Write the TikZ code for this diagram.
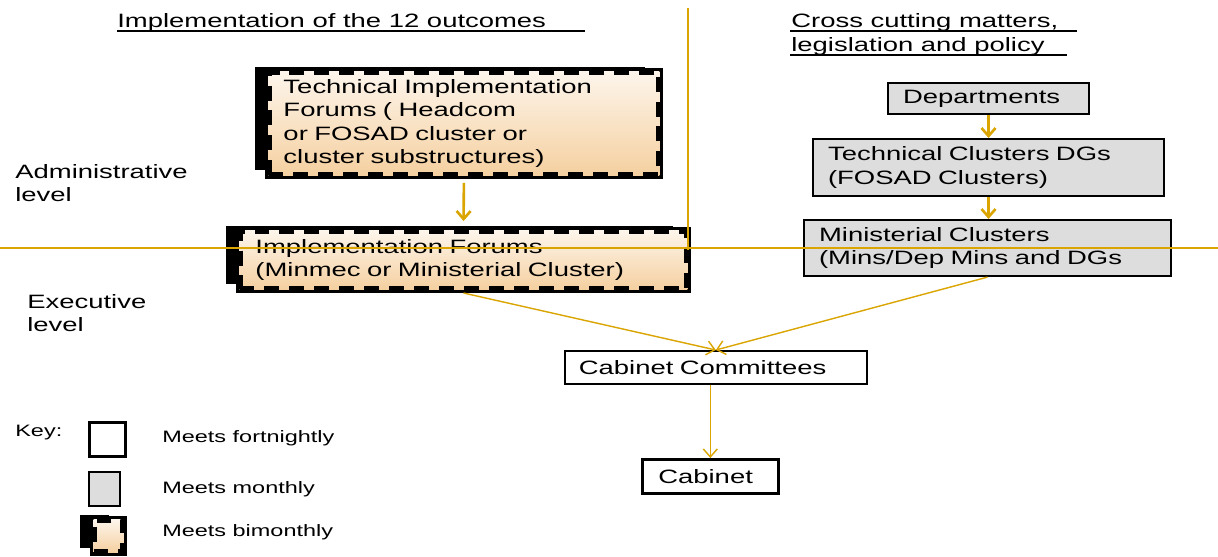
\documentclass[tikz,border=0pt]{standalone}
\usepackage{fontspec}
\setmainfont[FakeStretch=1.42]{Liberation Sans}
\usetikzlibrary{arrows.meta,positioning,shadows}

\definecolor{gold}{RGB}{218,165,0}
\definecolor{boxgray}{RGB}{221,221,221}
\definecolor{creamA}{RGB}{253,245,235}
\definecolor{peachB}{RGB}{245,208,160}

\begin{document}
\begin{tikzpicture}[x=0.02cm,y=-0.02cm,
  every node/.style={font=\fontsize{11}{13.3}\selectfont},
  wbox/.style={draw,fill=white,line width=1.2pt,anchor=north west,align=left,inner ysep=0pt},
  gbox/.style={draw,fill=boxgray,line width=1.2pt,anchor=north west,align=left,inner ysep=0pt},
  bimo/.style={anchor=north west,align=left,inner ysep=0pt,
    general shadow={fill=black,solid,shadow xshift=-0.28cm,shadow yshift=0.1cm},
    preaction={draw=black,solid,line width=0.14cm},
    top color=creamA,bottom color=peachB,
    draw=black,dash pattern=on 0.3cm off 0.2cm,line width=0.14cm},
  flow/.style={draw=gold,line width=1.5pt,-{Straight Barb[length=1.6mm,width=2.8mm]}},
  feed/.style={draw=gold,line width=0.8pt,-{Straight Barb[length=1.6mm,width=2.8mm]}},
  lab/.style={anchor=base west,inner sep=0pt},
  side/.style={anchor=west,align=left,inner sep=0pt},
  keylab/.style={anchor=west,inner sep=0pt,font=\fontsize{9.4}{11}\selectfont},
  uline/.style={line width=0.9pt}]
  \useasboundingbox (0,0) rectangle (1218,556);

  % headings
  \node[lab] (ttl) at (117,27) {Implementation of the 12 outcomes};
  \draw[uline] (117,31) -- (585,31);
  \node[lab] (cross1) at (791,27) {Cross cutting matters,};
  \node[lab] (cross2) at (791,51) {legislation and policy};
  \draw[uline] (790,31) -- (1077,31);
  \draw[uline] (790,55) -- (1067,55);

  \node[side] (adm) at (15,183) {Administrative\\level};
  \node[side] (exe) at (27,313) {Executive\\level};

  % left column
  \node[bimo,minimum width=7.82cm,minimum height=2.08cm,text width=7.22cm,inner xsep=0.3cm] (tif) at (265,68)
    {Technical Implementation\\Forums ( Headcom\\or FOSAD cluster or\\cluster substructures)};
  \node[bimo,minimum width=8.96cm,minimum height=1.18cm,text width=8.32cm,inner xsep=0.32cm] (impf) at (236,227)
    {Implementation Forums\\(Minmec or Ministerial Cluster)};

  % right column
  \node[gbox,minimum width=4.02cm,minimum height=0.62cm,text width=3.42cm,inner xsep=0.3cm] (dept) at (887,82) {Departments};
  \node[gbox,minimum width=7.02cm,minimum height=1.14cm,text width=6.42cm,inner xsep=0.3cm] (tcd) at (812,138)
    {Technical Clusters DGs\\(FOSAD Clusters)};
  \node[gbox,minimum width=7.34cm,minimum height=1.12cm,text width=6.74cm,inner xsep=0.3cm] (mincl) at (803,219)
    {Ministerial Clusters\\(Mins/Dep Mins and DGs};

  % executive
  \node[wbox,line width=1pt,minimum width=6.04cm,minimum height=0.66cm,text width=5.48cm,inner xsep=0.28cm] (cabc) at (564,350) {Cabinet Committees};
  \node[wbox,line width=1.5pt,minimum width=2.72cm,minimum height=0.68cm,text width=2.08cm,inner xsep=0.32cm] (cab) at (641,458) {Cabinet};

  \draw[flow,shorten <=0.08cm,shorten >=0.12cm] (tif.south) -- (impf.north);
  \draw[flow] (dept.south) -- (tcd.north);
  \draw[flow] (tcd.south) -- (tcd.south |- mincl.north);
  \draw[feed] (impf.south) -- (cabc.north);
  \draw[feed] (mincl.south) -- (cabc.north);
  \draw[feed] (cabc.south -| cab.north) -- (cab.north);

  % level dividers
  \draw[gold,line width=0.8pt] (0,248) -- (1218,248);
  \draw[gold,line width=1pt] (688,8) -- (688,250);

  % key
  \node[keylab] (key) at (15,433) {Key:};
  \node[wbox,line width=1.5pt,minimum width=0.72cm,minimum height=0.68cm,inner sep=0pt] (k1) at (88,421) {};
  \node[gbox,minimum width=0.62cm,minimum height=0.68cm,inner sep=0pt] (k2) at (88,471) {};
  \node[bimo,minimum width=0.6cm,minimum height=0.66cm,inner sep=0pt] (k3) at (90,516) {};
  \node[keylab] (k1t) at (162,438) {Meets fortnightly};
  \node[keylab] (k2t) at (162,489) {Meets monthly};
  \node[keylab] (k3t) at (162,532) {Meets bimonthly};
\end{tikzpicture}
\end{document}
